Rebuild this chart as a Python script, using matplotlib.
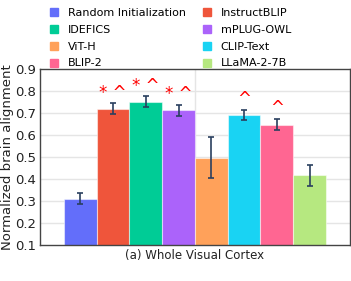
import matplotlib
matplotlib.use("Agg")
import matplotlib.pyplot as plt
from matplotlib.lines import Line2D

models = ["Random Initialization", "InstructBLIP", "IDEFICS", "mPLUG-OWL",
          "ViT-H", "CLIP-Text", "BLIP-2", "LLaMA-2-7B"]
values = [0.310, 0.720, 0.751, 0.712, 0.498, 0.693, 0.648, 0.418]
errors = [0.025, 0.024, 0.025, 0.024, 0.093, 0.023, 0.025, 0.048]
marks = ["", "*^", "*^", "*^", "", "^", "^", ""]
colors = ["#636EFA", "#EF553B", "#00CC96", "#AB63FA",
          "#FFA15A", "#19D3F3", "#FF6692", "#B6E880"]
yticks = [0.1, 0.2, 0.3, 0.4, 0.5, 0.6, 0.7, 0.8, 0.9]
xlabel = "(a) Whole Visual Cortex"
ylabel = "Normalized brain alignment"

plt.rcParams['font.family'] = ['DejaVu Sans']
fig = plt.figure(figsize=(3.51, 2.81), dpi=100)
ax = fig.add_axes([0.114, 0.128, 0.883, 0.626])

x = list(range(len(models)))
for i in x:
    ax.bar(i, values[i], width=1.0, bottom=0, color=colors[i],
           edgecolor=(1, 1, 1, 0.5), linewidth=0.8, zorder=2)
    ax.errorbar(i, values[i], yerr=errors[i], fmt='none', ecolor='#2a3f5f',
                elinewidth=1.2, capsize=2.5, capthick=1.2, zorder=3)
    if marks[i]:
        txt = " ".join(marks[i])
        ax.text(i, values[i] + errors[i] + 0.008, txt, color='red',
                ha='center', va='bottom', fontsize=12, zorder=4)

ax.set_xlim(-1.233, 7.5 + 0.733)
ax.set_ylim(0.1, 0.9)
ax.set_yticks(yticks)
ax.set_yticklabels([f"{t:.1f}" for t in yticks], fontsize=9.5, color='#222222')
ax.set_xticks([])
ax.axvline(3.5, color='#e5e5e5', linewidth=1, zorder=0)
for t in yticks[1:-1]:
    ax.axhline(t, color='#e5e5e5', linewidth=1, zorder=0)
ax.tick_params(axis='y', length=0, pad=3)
for s in ax.spines.values():
    s.set_color('#444444')
    s.set_linewidth(1.0)
ax.set_xlabel(xlabel, fontsize=8.5, labelpad=3, color='#222222')
ax.set_ylabel(ylabel, fontsize=9.5, color='#222222', va='center')
ax.yaxis.set_label_coords(-0.104, 0.50)

handles = [Line2D([0], [0], marker='s', linestyle='none', markersize=5.5,
                  markerfacecolor=c, markeredgecolor=c) for c in colors]
order = [0, 2, 4, 6, 1, 3, 5, 7]
fig.legend([handles[k] for k in order], [models[k] for k in order], ncol=2,
           loc='upper left', bbox_to_anchor=(0.131, 0.988), frameon=False,
           fontsize=8, handlelength=0.7, handletextpad=0.9, columnspacing=1.5,
           labelspacing=0.62, borderaxespad=0)

fig.savefig("out.png", dpi=100)
